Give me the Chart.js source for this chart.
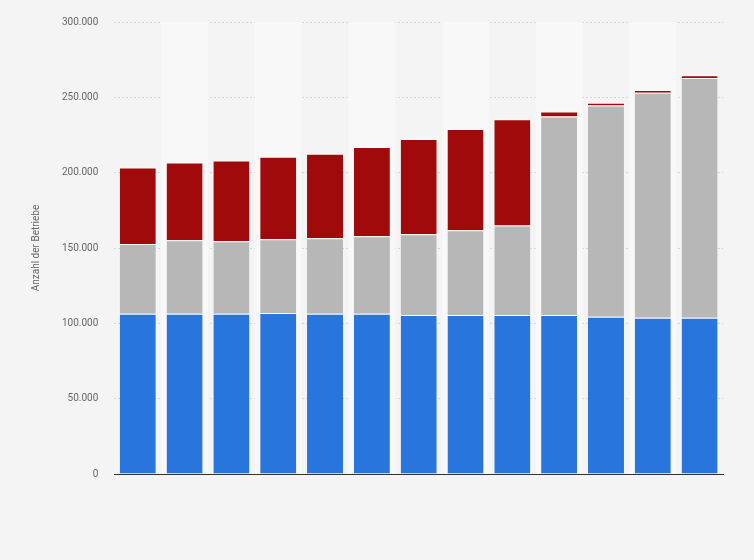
<!DOCTYPE html>
<html><head><meta charset="utf-8">
<script src="https://cdn.jsdelivr.net/npm/chart.js@4"></script>
<style>html,body{margin:0;background:#f4f4f4}#w{width:754px;height:560px}</style>
</head><body><div id="w"><canvas id="c"></canvas></div>
<script>
const labels = ['1','2','3','4','5','6','7','8','9','10','11','12','13'];
const blue = [106300,106300,106300,106900,106300,106300,105600,105600,105600,105600,104300,103700,103700];
const gray = [46300,48900,48200,48900,50200,51500,53500,56100,59400,131700,140200,149300,159100];
const red  = [50800,51500,53500,54800,56100,59300,63200,67200,70400,3300,1900,1900,1900];

const stripes = {
  id: 'stripes',
  beforeDatasetsDraw(ch) {
    const { ctx, chartArea: a, scales: { x } } = ch;
    const step = x.getPixelForValue(1) - x.getPixelForValue(0);
    ctx.save();
    ctx.fillStyle = '#f8f8f8';
    labels.forEach((_, i) => {
      if (i % 2 === 1) ctx.fillRect(x.getPixelForValue(i) - step / 2, a.top, step, a.bottom - a.top);
    });
    ctx.restore();
  }
};

const ds = (data, color) => ({ data, backgroundColor: color, borderColor: '#ffffff', borderWidth: { top: 1 }, borderSkipped: 'bottom', barPercentage: 0.77, categoryPercentage: 1 });

new Chart(document.getElementById('c'), {
  type: 'bar',
  data: { labels, datasets: [ds(blue, '#2876dd'), ds(gray, '#b7b7b7'), ds(red, '#a10a0a')] },
  options: {
    responsive: true, maintainAspectRatio: false, animation: false,
    layout: { padding: { left: 26, right: 31, top: 13, bottom: 78 } },
    plugins: { legend: { display: false }, tooltip: { enabled: false } },
    scales: {
      x: { stacked: true, ticks: { display: false }, grid: { display: false }, border: { color: '#333', width: 1 } },
      y: {
        stacked: true, min: 0, max: 300000,
        ticks: { stepSize: 50000, color: '#666', font: { family: 'Roboto', size: 10 }, padding: 16,
          callback: v => v.toLocaleString('de-DE') },
        grid: { color: '#d6d6d6', drawTicks: false },
        border: { display: false, dash: [2, 2] },
        title: { display: true, text: 'Anzahl der Betriebe', color: '#666', font: { family: 'Roboto', size: 10 } }
      }
    }
  },
  plugins: [stripes]
});
</script></body></html>
